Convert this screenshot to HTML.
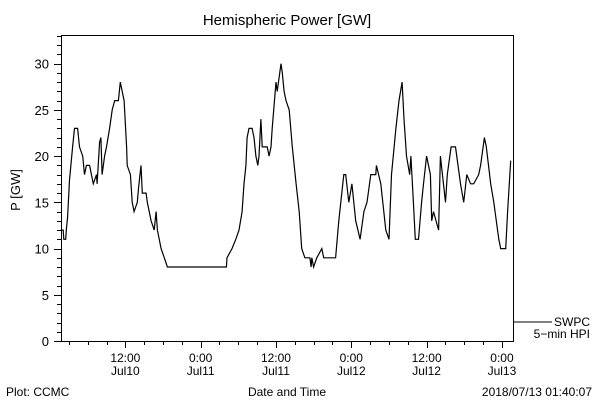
<!DOCTYPE html>
<html><head><meta charset="utf-8"><style>
html,body{margin:0;padding:0;background:#fff;}
svg{display:block;font-family:"Liberation Sans",sans-serif;}
</style></head><body>
<svg id="chart" width="600" height="400" viewBox="0 0 600 400" xmlns="http://www.w3.org/2000/svg">
<rect x="0" y="0" width="600" height="400" fill="#fff"/>
<text x="287" y="25" font-size="15" text-anchor="middle">Hemispheric Power [GW]</text>
<text x="0" y="0" font-size="13" text-anchor="middle" transform="translate(20,190) rotate(-90)">P [GW]</text>
<text x="287" y="396" font-size="12" text-anchor="middle">Date and Time</text>
<text x="6" y="396" font-size="12">Plot: CCMC</text>
<text x="592" y="396" font-size="12" text-anchor="end">2018/07/13 01:40:07</text>
<g id="axes"></g>
<g id="series"></g>
<g>
<line x1="514" y1="322" x2="552" y2="322" stroke="#000" stroke-width="1"/>
<text x="590" y="326" font-size="12" text-anchor="end">SWPC</text>
<text x="590" y="338" font-size="12" text-anchor="end">5−min HPI</text>
</g>
</svg>
<script>
// hours since 2018-07-10 00:00
const hours = [1.7,2.1,2.2,2.5,2.6,2.8,3.1,3.6,3.9,4.4,4.7,5.2,5.5,5.8,6.3,6.6,6.9,7.4,7.5,7.9,8.1,8.3,8.7,9.0,9.5,9.9,10.3,10.9,11.2,11.5,11.8,12.2,12.3,12.8,13.1,13.4,13.9,14.1,14.5,14.7,15.3,15.5,16.1,16.6,16.9,17.1,17.7,18.2,18.7,28.1,28.2,29.0,29.6,30.1,30.6,30.9,31.2,31.4,31.7,32.2,32.5,32.8,33.1,33.3,33.6,33.8,34.6,34.9,35.2,35.4,36.0,36.2,36.8,37.0,37.3,37.6,38.1,38.6,39.2,39.7,40.1,40.6,41.4,41.6,41.7,42.0,42.5,43.3,43.6,45.5,46.0,46.8,47.1,47.6,48.1,48.7,49.4,50.0,50.5,51.1,51.9,52.0,52.7,53.5,54.0,54.4,55.1,55.6,56.1,56.4,56.8,57.3,57.5,57.9,58.2,58.7,59.2,59.5,60.0,60.6,60.8,61.1,61.9,62.2,63.0,63.3,63.9,64.6,65.4,65.9,66.4,67.0,67.5,68.3,68.6,69.2,69.5,70.2,70.7,71.5,71.8,72.6,72.9,73.4];
const power = [12,12,11,11,12,13.4,17.4,21,23,23,21,20,18,19,19,18,17,18,17,21.5,22,18,20,21,23,25,26,26,28,27,26,21,19,18,15,14,15,16.5,19,16,16,15,13,12,14,12,10,9,8,8,9,10,11,12,14,17,19,22,23,23,22,20,19,20,24,21,21,20,21,23,28,27,30,29,27,26,25,21,17,14,10,9,9,8,9,8,9,10,9,9,13,18,18,15,17,13,11,14,15,18,18,19,17,12,11,18,23,26,28,24,20,18,20,15,11,11,15,17,20,18,13,14,12,20,15,18,21,21,17,15,18,17,17,18,19,22,21,17,15,11,10,10,14,19.5];
const xTickHours = [12,24,36,48,60,72];
const xTickTop = ["12:00","0:00","12:00","0:00","12:00","0:00"];
const xTickBottom = ["Jul10","Jul11","Jul11","Jul12","Jul12","Jul13"];
const yTicks = [0,5,10,15,20,25,30];

const L=61,R=513,T=35,B=341;
const x0=1.75,x1=73.76,y0=0,y1=33.1;
const sx=h=>L+(h-x0)/(x1-x0)*(R-L);
const sy=v=>B-(v-y0)/(y1-y0)*(B-T);
const NS="http://www.w3.org/2000/svg";
const axes=document.getElementById('axes');
function mk(tag,attrs,parent){const e=document.createElementNS(NS,tag);for(const k in attrs)e.setAttribute(k,attrs[k]);parent.appendChild(e);return e;}

const frame=mk('rect',{x:L+0.5,y:T+0.5,width:R-L,height:B-T,fill:'none',stroke:'#000','stroke-width':1},axes);



// y ticks
for(let v=0;v<=33;v++){
  const y=Math.round(sy(v))+0.5;
  const major=v%5===0;
  const t=mk('line',{x1:L-(major?7:4),x2:L,y1:y,y2:y,stroke:'#000','stroke-width':1},axes);
  
  
}
yTicks.forEach(v=>{
  const t=mk('text',{x:L-12,y:sy(v)+5,'font-size':13,'text-anchor':'end'},axes);
  t.textContent=v;
  
  
});
// x ticks every 3 hours
for(let h=3;h<=x1;h+=3){
  const x=Math.round(sx(h))+0.5;
  const major=h%12===0;
  const t=mk('line',{x1:x,x2:x,y1:B,y2:B+(major?7:4),stroke:'#000','stroke-width':1},axes);
  
  
}
xTickHours.forEach((h,i)=>{
  const a=mk('text',{x:sx(h),y:362,'font-size':12,'text-anchor':'middle'},axes);
  a.textContent=xTickTop[i];
  
  
  const b=mk('text',{x:sx(h),y:375,'font-size':12,'text-anchor':'middle'},axes);
  b.textContent=xTickBottom[i];
  
  
});
// series
const d=hours.map((h,i)=>(i?'L':'M')+sx(h).toFixed(1)+','+sy(power[i]).toFixed(1)).join(' ');
const p=mk('path',{d:d,fill:'none',stroke:'#000','stroke-width':1.2,'stroke-linejoin':'miter'},document.getElementById('series'));


</script>
</body></html>
